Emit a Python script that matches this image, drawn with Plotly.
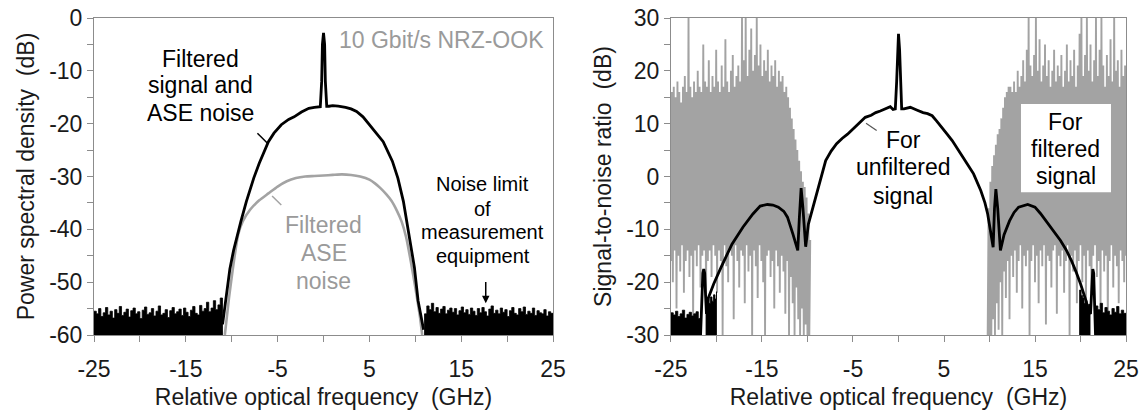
import numpy as np
import plotly.graph_objects as go

# ---------------- Left panel data ----------------
sig_x = [-11.0, -10.6, -10.2, -9.8, -9.4, -9.0, -8.4, -7.6, -7.0, -6.5, -6.0, -5.4, -4.6, -3.8, -3.2,
         -2.4, -1.6, -1.0, -0.6, -0.35, -0.2, -0.12, 0.0, 0.12, 0.2, 0.35, 0.6, 1.0, 1.6, 2.4, 3.0,
         3.6, 4.3, 5.3, 6.5, 7.5, 8.1, 8.7, 9.3, 9.9, 10.3, 10.9]
sig_y = [-58.0, -52.3, -47.5, -44.0, -41.0, -38.5, -34.7, -30.3, -27.5, -25.3, -23.4, -21.8, -20.2, -19.2, -18.7,
         -17.8, -17.1, -16.9, -16.8, -16.8, -12.0, -5.0, -2.8, -5.0, -12.0, -16.7, -16.7, -16.6, -16.7, -16.9, -17.2,
         -17.7, -18.7, -20.9, -23.4, -27.1, -30.3, -34.7, -41.0, -47.2, -53.5, -59.0]

ase_x = [-10.75, -10.3, -9.8, -9.3, -8.8, -8.0, -7.0, -6.0, -5.0, -4.0, -3.0, -2.0, -1.0, 0.0, 1.0, 2.0,
         3.0, 4.0, 5.0, 5.6, 6.2, 6.8, 7.4, 8.0, 8.5, 9.0, 9.5, 10.0, 10.5, 10.75]
ase_y = [-60.0, -53.0, -46.5, -41.0, -38.5, -36.3, -34.5, -33.2, -31.9, -30.9, -30.3, -30.0, -29.9, -29.8, -29.7, -29.6,
         -29.7, -30.0, -30.6, -31.3, -32.2, -33.3, -34.6, -36.5, -38.5, -41.5, -46.0, -51.0, -56.5, -60.0]

floor_left_top = [-55.5, -56.0, -55.0, -56.5, -55.8, -54.8, -56.2, -55.5, -56.8, -55.2, -55.9, -54.6, -56.3, -55.7,
                  -55.1, -56.6, -55.4, -54.9, -56.0, -55.6, -56.9, -55.3, -54.7, -56.1, -55.8, -55.0, -56.4, -55.5,
                  -54.5, -56.2, -55.9, -55.2, -56.7, -55.4, -54.8, -56.0, -55.6, -55.1, -56.3, -54.9, -55.7, -56.5,
                  -55.3, -54.6, -55.9, -56.2, -54.4, -55.5, -55.0, -53.8, -55.6, -54.9, -53.5, -55.2, -54.3, -53.0, -56.0]
floor_right_top = [-56.0, -54.5, -55.2, -54.0, -55.6, -54.8, -55.9, -55.1, -54.6, -56.0, -55.3, -54.9, -55.7, -55.0,
                   -56.2, -55.4, -54.7, -55.8, -55.2, -56.1, -54.9, -55.5, -56.3, -55.0, -55.8, -54.8, -55.6, -56.4,
                   -55.1, -54.5, -55.9, -55.3, -56.0, -54.9, -55.7, -55.2, -56.5, -55.4, -54.8, -55.9, -56.2, -55.0,
                   -55.6, -54.7, -56.1, -55.5, -55.9, -54.9, -56.3, -55.4, -55.8, -56.0, -55.2, -56.4, -55.6, -55.9, -56.6]

# ---------------- Right panel data ----------------
snr_x = [-21.75, -21.6, -21.5, -21.4, -21.3, -21.2, -21.1, -20.9, -20.3, -19.5, -18.3, -17.1, -16.0, -15.2, -14.4,
         -13.8, -13.2, -12.6, -12.2, -11.6, -11.07, -10.9, -10.7, -10.5, -10.2, -9.9, -9.2, -8.6, -8.0, -7.4,
         -6.8, -6.2, -5.6, -5.0, -4.4, -3.65, -3.0, -2.5, -2.0, -1.5, -0.9, -0.6, -0.35, -0.2, -0.12, 0.0,
         0.12, 0.2, 0.35, 0.6, 1.3, 2.0, 2.7, 3.2, 3.7, 4.2, 4.7, 5.3, 5.9, 6.5, 7.1, 7.7, 8.25, 9.05, 9.5,
         9.8, 10.2, 10.4, 10.55, 10.7, 10.9, 11.2, 11.6, 12.2, 12.7, 13.2, 14.2, 15.0, 15.6, 16.2, 17.0, 17.8,
         18.4, 19.0, 19.5, 20.0, 20.6, 20.9, 21.1, 21.2, 21.3, 21.35, 21.45, 21.55, 21.65]
snr_y = [-30.0, -22.5, -18.3, -17.5, -18.3, -22.5, -26.0, -23.0, -20.3, -17.2, -12.8, -9.6, -7.1, -5.6, -5.3,
         -5.4, -5.8, -6.6, -7.7, -10.9, -14.0, -8.0, -2.2, -6.0, -13.3, -9.0, -4.6, -0.5, 3.0, 4.8,
         6.2, 7.2, 8.0, 9.0, 9.9, 11.2, 11.6, 12.1, 12.4, 12.8, 13.2, 12.7, 12.8, 18.0, 24.0, 27.0,
         24.0, 18.0, 12.8, 12.8, 13.1, 12.6, 12.1, 11.9, 11.5, 10.5, 9.3, 8.1, 6.8, 5.3, 3.6, 2.0, 0.5, -2.7, -5.0,
         -7.1, -10.9, -13.4, -6.0, -2.4, -6.0, -14.0, -11.0, -8.4, -6.8, -5.8, -5.3, -5.8, -7.0, -8.4, -10.2, -12.1,
         -13.8, -15.9, -18.0, -20.3, -23.5, -25.5, -26.0, -22.5, -18.3, -17.5, -18.3, -22.5, -30.0]

snr_floor_a = [-25.8, -26.2, -25.5, -26.5, -26.0, -25.3, -26.8, -26.1, -25.7, -26.4, -26.0, -25.6, -26.9, -26.2]
snr_floor_b = [-24.5, -23.0, -24.0, -22.8, -23.6, -22.4, -23.2, -21.8]
snr_floor_c = [-21.5, -22.5, -23.0, -24.0, -23.5, -24.8, -24.2, -25.0]
snr_floor_d = [-24.5, -25.2, -24.0, -25.8, -24.8, -25.5, -26.2, -25.0, -25.7, -24.6, -26.0, -25.3, -25.9, -26.4]

filt_left_hi = [16, 17, 15, 18, 16, 14, 17, 19, 16, 30, 17, 15, 18, 16, 20, 17, 16, 25, 18, 17, 22, 16, 19, 17,
                24, 18, 16, 21, 17, 26, 18, 16, 20, 23, 17, 19, 21, 18, 30, 22, 30, 19, 24, 28, 20, 23, 30, 21,
                25, 19, 22, 20, 24, 18, 21, 19, 22, 17, 20, 18, 19, 16, 17, 15, 13, 11, 9, 7, 5, 3, 1, -1, -2,
                -4, -7, -12]
filt_left_lo = [-16, -20, -14, -25, -15, -18, -13, -22, -16, -14, -19, -15, -28, -14, -17, -13, -21, -15, -14, -24,
                -16, -14, -19, -13, -15, -22, -14, -16, -30, -13, -17, -20, -14, -15, -27, -13, -16, -21, -14, -15,
                -24, -13, -18, -15, -30, -14, -17, -23, -13, -16, -20, -30, -15, -14, -19, -16, -25, -14, -17, -22,
                -15, -18, -26, -16, -30, -19, -24, -30, -21, -27, -30, -25, -30, -28, -30, -30]
filt_right_hi = [-6, -1, 2, 4, 6, 8, 9, 11, 13, 15, 16, 17, 17, 16, 18, 16, 20, 17, 19, 22, 18, 24, 30, 21, 19, 23,
                 30, 20, 26, 18, 21, 25, 19, 22, 17, 20, 24, 18, 21, 19, 23, 17, 20, 25, 18, 22, 19, 24, 17, 21,
                 27, 30, 19, 23, 30, 20, 25, 18, 22, 30, 19, 24, 30, 21, 17, 23, 19, 26, 18, 30, 20, 22, 17, 24,
                 19, 21, 18]
filt_right_lo = [-30, -30, -30, -27, -30, -24, -29, -20, -30, -18, -23, -16, -27, -15, -19, -14, -22, -16, -13, -25,
                 -15, -17, -14, -30, -16, -13, -20, -15, -24, -14, -17, -13, -28, -15, -16, -21, -14, -13, -26, -15,
                 -17, -14, -22, -16, -13, -30, -15, -18, -14, -24, -16, -13, -20, -15, -27, -14, -17, -22, -15, -13,
                 -19, -16, -25, -14, -18, -15, -30, -16, -13, -21, -15, -17, -24, -14, -16, -20, -15]

x_tick_vals = [-25, -20, -15, -10, -5, 0, 5, 10, 15, 20, 25]
x_tick_text = ["-25", "", "-15", "", "-5", "", "5", "", "15", "", "25"]
yl_tick_vals = [0, -5, -10, -15, -20, -25, -30, -35, -40, -45, -50, -55, -60]
yl_tick_text = ["0", "", "-10", "", "-20", "", "-30", "", "-40", "", "-50", "", "-60"]
yr_tick_vals = [30, 25, 20, 15, 10, 5, 0, -5, -10, -15, -20, -25, -30]
yr_tick_text = ["30", "", "20", "", "10", "", "0", "", "-10", "", "-20", "", "-30"]

BLACK = "#000000"
GRAY = "#a3a3a3"
TXT_GRAY = "#9a9a9a"
FONT = "Liberation Sans, Arial, sans-serif"
FS = 23


def filled(xs, tops, base, xa, ya):
    return go.Scatter(x=[xs[0]] + list(xs) + [xs[-1]], y=[base] + list(tops) + [base],
                      fill="toself", fillcolor=BLACK, mode="lines", line=dict(color=BLACK, width=0.8, shape="hv"),
                      xaxis=xa, yaxis=ya, showlegend=False, hoverinfo="skip")


def zigzag(x0, x1, lo, hi):
    xs = np.linspace(x0, x1, len(lo))
    step = (xs[1] - xs[0]) / 2
    zx, zy = [], []
    for xv, l, h in zip(xs, lo, hi):
        zx += [xv, xv + step]
        zy += [l, h]
    return zx, zy


fig = go.Figure()

# Left panel
fig.add_trace(filled(np.linspace(-25, -11, len(floor_left_top)), floor_left_top, -60, "x", "y"))
fig.add_trace(filled(np.linspace(11, 25, len(floor_right_top)), floor_right_top, -60, "x", "y"))
fig.add_trace(go.Scatter(x=ase_x, y=ase_y, mode="lines", line=dict(color=GRAY, width=2.6, shape="spline", smoothing=0.6),
                         xaxis="x", yaxis="y", showlegend=False))
fig.add_trace(go.Scatter(x=sig_x, y=sig_y, mode="lines", line=dict(color=BLACK, width=2.8),
                         xaxis="x", yaxis="y", showlegend=False))

# Right panel
for x0, x1, lo, hi in [(-25, -9.8, filt_left_lo, filt_left_hi), (9.8, 25, filt_right_lo, filt_right_hi)]:
    zx, zy = zigzag(x0, x1, lo, hi)
    fig.add_trace(go.Scatter(x=zx, y=zy, mode="lines", line=dict(color=GRAY, width=1.9),
                             xaxis="x2", yaxis="y2", showlegend=False))
fig.add_trace(filled(np.linspace(-25, -21.75, len(snr_floor_a)), snr_floor_a, -30, "x2", "y2"))
fig.add_trace(filled(np.linspace(-21.15, -20.0, len(snr_floor_b)), snr_floor_b, -30, "x2", "y2"))
fig.add_trace(filled(np.linspace(19.9, 21.05, len(snr_floor_c)), snr_floor_c, -30, "x2", "y2"))
fig.add_trace(filled(np.linspace(21.65, 25, len(snr_floor_d)), snr_floor_d, -30, "x2", "y2"))
fig.add_trace(go.Scatter(x=snr_x, y=snr_y, mode="lines", line=dict(color=BLACK, width=2.8),
                         xaxis="x2", yaxis="y2", showlegend=False))

axis_common = dict(showline=True, linecolor="#8c8c8c", linewidth=1, mirror=True, ticks="outside",
                   ticklen=6, tickcolor="#8c8c8c", tickwidth=1, showgrid=False, zeroline=False,
                   automargin=False,
                   tickfont=dict(family=FONT, size=FS, color="#1a1a1a"),
                   title_font=dict(family=FONT, size=FS, color="#1a1a1a"))

fig.update_layout(
    width=1145, height=410,
    margin=dict(l=94, r=19, t=18, b=75),
    paper_bgcolor="white", plot_bgcolor="white",
    font=dict(family=FONT, size=FS, color="#1a1a1a"),
    xaxis=dict(domain=[0, 0.4448], range=[-25, 25], tickmode="array", tickvals=x_tick_vals,
               ticktext=x_tick_text, ticklabelstandoff=7,
               title=dict(text="Relative optical frequency\u00a0 (GHz)", standoff=8),
               anchor="y", **axis_common),
    yaxis=dict(range=[-60, 0], tickmode="array", tickvals=yl_tick_vals, ticktext=yl_tick_text,
               title=dict(text="Power spectral density\u00a0 (dB)", standoff=8), anchor="x", **axis_common),
    xaxis2=dict(domain=[0.5591, 1], range=[-25, 25], tickmode="array", tickvals=x_tick_vals,
                ticktext=x_tick_text, ticklabelstandoff=7,
                title=dict(text="Relative optical frequency\u00a0 (GHz)", standoff=8),
                anchor="y2", **axis_common),
    yaxis2=dict(range=[-30, 30], tickmode="array", tickvals=yr_tick_vals, ticktext=yr_tick_text,
                title=dict(text="Signal-to-noise ratio\u00a0 (dB)", standoff=8), anchor="x2", **axis_common),
)

ann = []


def txt(x, y, s, xref, yref, color=BLACK, size=FS):
    ann.append(dict(x=x, y=y, text=s, xref=xref, yref=yref, showarrow=False,
                    font=dict(family=FONT, size=size, color=color), xanchor="center", yanchor="middle"))


txt(-13.45, -7.7, "Filtered", "x", "y")
txt(-13.45, -12.7, "signal and", "x", "y")
txt(-13.45, -18.0, "ASE noise", "x", "y")
txt(12.9, -4.2, "10 Gbit/s NRZ-OOK", "x", "y", TXT_GRAY)
txt(0.0, -39.2, "Filtered", "x", "y", TXT_GRAY)
txt(0.0, -44.5, "ASE", "x", "y", TXT_GRAY)
txt(0.0, -49.7, "noise", "x", "y", TXT_GRAY)
txt(17.35, -31.5, "Noise limit", "x", "y", size=20)
txt(17.35, -36.1, "of", "x", "y", size=20)
txt(17.35, -40.5, "measurement", "x", "y", size=20)
txt(17.35, -45.0, "equipment", "x", "y", size=20)
txt(0.5, 7.0, "For", "x2", "y2")
txt(0.5, 1.8, "unfiltered", "x2", "y2")
txt(0.5, -3.6, "signal", "x2", "y2")
txt(18.4, 10.3, "For", "x2", "y2")
txt(18.4, 5.2, "filtered", "x2", "y2")
txt(18.4, 0.1, "signal", "x2", "y2")

ann.append(dict(x=17.67, y=-54.0, ax=17.67, ay=-49.7, xref="x", yref="y", axref="x", ayref="y",
                showarrow=True, arrowhead=2, arrowsize=1, arrowwidth=1.5, arrowcolor=BLACK, text=""))
fig.update_layout(annotations=ann)

fig.update_layout(shapes=[
    dict(type="line", xref="x", yref="y", x0=-7.2, y0=-21.8, x1=-6.1, y1=-23.7,
         line=dict(color=BLACK, width=1.5)),
    dict(type="line", xref="x", yref="y", x0=-5.6, y0=-33.7, x1=-4.6, y1=-35.4,
         line=dict(color=GRAY, width=1.5)),
    dict(type="line", xref="x2", yref="y2", x0=-3.57, y0=10.1, x1=-2.4, y1=8.7,
         line=dict(color="#555555", width=1.2)),
    dict(type="rect", xref="x2", yref="y2", x0=13.46, x1=23.35, y0=-3.0, y1=13.7,
         fillcolor="white", line=dict(width=0), layer="above"),
])

fig.write_html("out.html")
